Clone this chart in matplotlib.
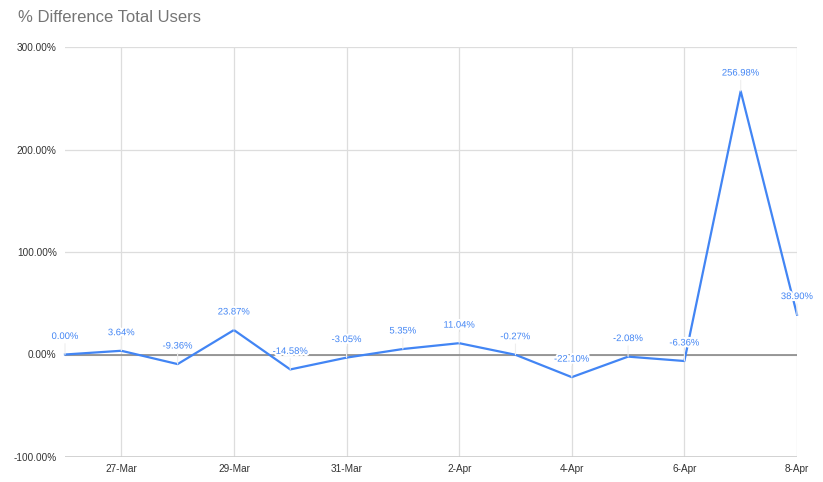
import numpy as np
import matplotlib.pyplot as plt
import matplotlib.patheffects as pe
from matplotlib.ticker import FuncFormatter

plt.rcParams['font.family'] = ['Liberation Sans', 'DejaVu Sans']

days = ['26-Mar', '27-Mar', '28-Mar', '29-Mar', '30-Mar', '31-Mar', '1-Apr',
        '2-Apr', '3-Apr', '4-Apr', '5-Apr', '6-Apr', '7-Apr', '8-Apr']
pct_diff = [0.00, 3.64, -9.36, 23.87, -14.58, -3.05, 5.35,
            11.04, -0.27, -22.10, -2.08, -6.36, 256.98, 38.90]
y_ticks = [-100, 0, 100, 200, 300]

x = np.arange(len(days))

fig = plt.figure(figsize=(8.23, 4.82), dpi=100)
ax = fig.add_axes([65 / 823, 25 / 482, 732 / 823, 410 / 482])

ax.plot(x, pct_diff, color='#4285f4', lw=1.6, zorder=3, clip_on=False)
halo = [pe.withStroke(linewidth=3, foreground='white')]
for xi, v in zip(x, pct_diff):
    ax.annotate(f'{v:.2f}%', (xi, v), xytext=(0, 13), textcoords='offset points',
                ha='center', va='center', fontsize=6.8, color='#4285f4',
                annotation_clip=False, zorder=4, path_effects=halo,
                arrowprops=dict(arrowstyle='-', color='#eeeeee', lw=0.8,
                                shrinkA=0, shrinkB=0))

ax.set_xlim(0, len(days) - 1)
ax.set_ylim(-100, 300)
ax.set_yticks(y_ticks)
ax.yaxis.set_major_formatter(FuncFormatter(lambda v, p: f'{v:.2f}%'))
ax.set_xticks(x[1::2])
ax.set_xticklabels(days[1::2])

ax.grid(True, color='#dddddd', lw=0.9, zorder=0)
ax.axhline(0, color='#888888', lw=1.2, zorder=2)
ax.axhline(-100, color='#cccccc', lw=1.2, zorder=2)
for s in ax.spines.values():
    s.set_visible(False)
ax.tick_params(length=0, labelsize=7.2, colors='#333333', pad=6)
ax.tick_params(axis='x', pad=5)

fig.text(18 / 823, 1 - 17 / 482, '% Difference Total Users', fontsize=12,
         color='#757575', ha='left', va='center')

fig.savefig('out.png', dpi=100)
